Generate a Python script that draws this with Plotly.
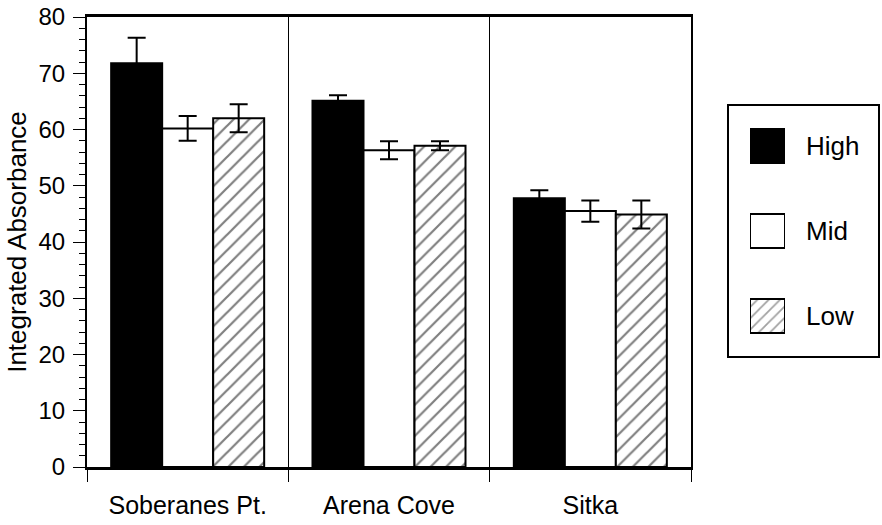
import plotly.graph_objects as go

sites = ["Soberanes Pt.", "Arena Cove", "Sitka"]
levels = ["High", "Mid", "Low"]
high_vals = [71.8, 65.1, 47.8]
high_err = [4.5, 1.0, 1.4]
mid_vals = [60.2, 56.3, 45.5]
mid_err = [2.2, 1.6, 1.9]
low_vals = [62.0, 57.1, 44.9]
low_err = [2.5, 0.8, 2.5]
y_ticks = [0, 10, 20, 30, 40, 50, 60, 70, 80]

FONT = "Liberation Sans, Arial, Helvetica, sans-serif"
W, H = 882, 525
ML, MR, MT, MB = 87, 2, 17, 58
PW = W - ML - MR
PH = H - MT - MB


def px_x(x):
    return (x - ML) / PW


def px_y(y):
    return (H - MB - y) / PH


fig = go.Figure()

series = [
    ("High", high_vals, high_err, dict(color="black", line=dict(color="black", width=2))),
    ("Mid", mid_vals, mid_err, dict(color="white", line=dict(color="black", width=2))),
    ("Low", low_vals, low_err, dict(color="white", line=dict(color="black", width=2),
                                    pattern=dict(shape="/", fgcolor="black", bgcolor="white",
                                                 size=11, solidity=0.2))),
]
for name, vals, err, marker in series:
    fig.add_trace(go.Bar(
        x=sites, y=vals, name=name, marker=marker,
        error_y=dict(type="data", array=err, visible=True, color="black",
                     thickness=2, width=9),
        xaxis="x", yaxis="y", showlegend=False,
    ))

# legend swatches drawn as bars on a small auxiliary axis
fig.add_trace(go.Bar(
    y=levels[::-1], x=[1, 1, 1], orientation="h", width=0.4,
    marker=dict(color=["white", "white", "black"],
                line=dict(color="black", width=2),
                pattern=dict(shape=["/", "", ""], fgcolor="black", bgcolor="white",
                             size=8, solidity=0.22)),
    xaxis="x2", yaxis="y2", showlegend=False, hoverinfo="skip",
))

fig.update_layout(
    width=W, height=H,
    margin=dict(l=ML, r=MR, t=MT, b=MB),
    paper_bgcolor="white", plot_bgcolor="white",
    font=dict(family=FONT, size=25, color="black"),
    barmode="group", bargap=0.24, bargroupgap=0,
    xaxis=dict(
        domain=[0, px_x(691)], type="category",
        tickson="boundaries", ticks="outside", ticklen=12, tickwidth=1, tickcolor="black",
        showgrid=True, gridcolor="black", gridwidth=1,
        showline=True, linecolor="black", linewidth=2.5, mirror=True,
        tickfont=dict(size=25), ticklabelstandoff=14,
    ),
    yaxis=dict(
        range=[0, 80], tickvals=y_ticks, ticks="outside", ticklen=12, tickwidth=1,
        tickcolor="black",
        minor=dict(dtick=2, ticks="outside", ticklen=6, tickwidth=1, tickcolor="black"),
        showgrid=False, zeroline=False,
        showline=True, linecolor="black", linewidth=2, mirror=True,
        tickfont=dict(size=24), ticklabelstandoff=3,
        title=dict(text="Integrated Absorbance", font=dict(size=26), standoff=4),
    ),
    xaxis2=dict(domain=[px_x(750), px_x(785)], range=[0, 1], anchor="y2",
                showgrid=False, zeroline=False, showticklabels=False, showline=False),
    yaxis2=dict(domain=[px_y(358.5), px_y(103.5)], anchor="x2", type="category",
                categoryorder="array", categoryarray=levels[::-1],
                side="right", showgrid=False, zeroline=False, showline=False,
                ticks="", ticklabelstandoff=20, tickfont=dict(size=26)),
    shapes=[dict(type="rect", xref="paper", yref="paper",
                 x0=px_x(728), x1=px_x(879), y0=px_y(357), y1=px_y(105),
                 line=dict(color="black", width=2), fillcolor="rgba(0,0,0,0)", layer="below")],
)

fig.write_html("out.html")
